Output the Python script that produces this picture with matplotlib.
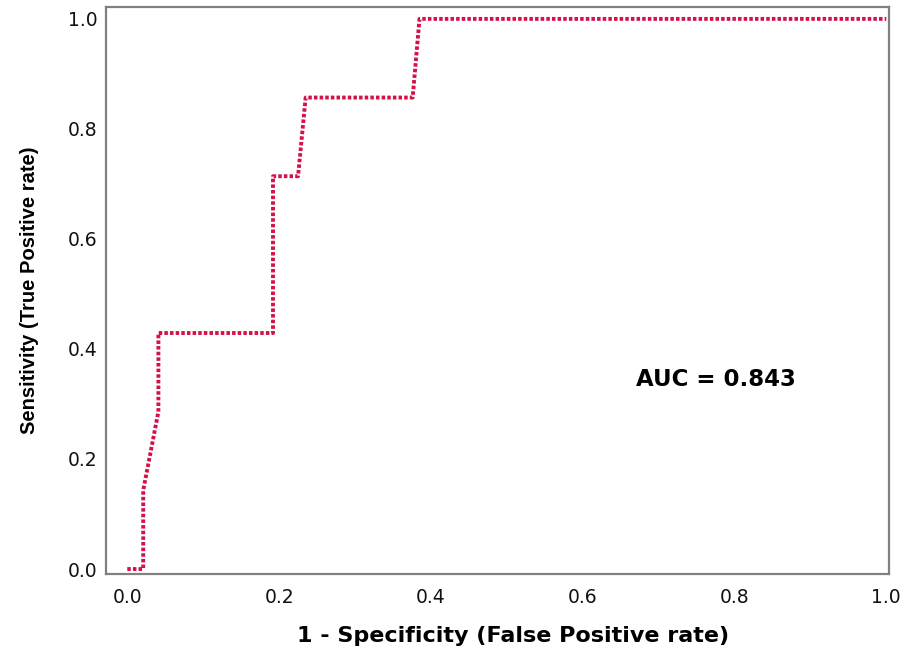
import matplotlib
matplotlib.use("Agg")
import matplotlib.pyplot as plt

# ROC curve points
fpr = [0.0, 0.021, 0.021, 0.041, 0.041, 0.192, 0.192, 0.225, 0.235, 0.376, 0.385, 1.0]
tpr = [0.0, 0.0, 0.143, 0.286, 0.429, 0.429, 0.714, 0.714, 0.857, 0.857, 1.0, 1.0]
ticks = [0.0, 0.2, 0.4, 0.6, 0.8, 1.0]
auc_text = "AUC = 0.843"

plt.rcParams['font.family'] = ['DejaVu Sans']

fig = plt.figure(figsize=(9.14, 6.46), dpi=100)
ax = fig.add_axes([0.116, 0.1115, 0.857, 0.878])

ax.plot(fpr, tpr, color='#d3124a', linewidth=2.8, linestyle=(0, (0.9, 0.55)),
        solid_capstyle='butt', dash_capstyle='butt')

ax.set_xlim(-0.028, 1.004)
ax.set_ylim(-0.009, 1.022)
ax.set_xticks(ticks)
ax.set_yticks(ticks)
ax.set_xticklabels([f"{t:.1f}" for t in ticks])
ax.set_yticklabels([f"{t:.1f}" for t in ticks])
ax.tick_params(length=0, labelsize=13.5, colors='#111111')
ax.tick_params(axis='x', pad=10)
ax.tick_params(axis='y', pad=6)

for s in ax.spines.values():
    s.set_color('#808080')
    s.set_linewidth(1.6)

ax.set_xlabel("1 - Specificity (False Positive rate)", fontsize=16,
              fontweight='bold')
ax.xaxis.label.set_va('baseline')
ax.xaxis.set_label_coords(0.52, -0.12)
ax.set_ylabel("Sensitivity (True Positive rate)", fontsize=14.5,
              fontweight='bold', labelpad=21,
              family=['Liberation Sans Narrow', 'Liberation Sans'])

ax.text(0.776, 0.345, auc_text, fontsize=16.5, fontweight='bold',
        ha='center', va='center')

fig.savefig("out.png", dpi=100)
